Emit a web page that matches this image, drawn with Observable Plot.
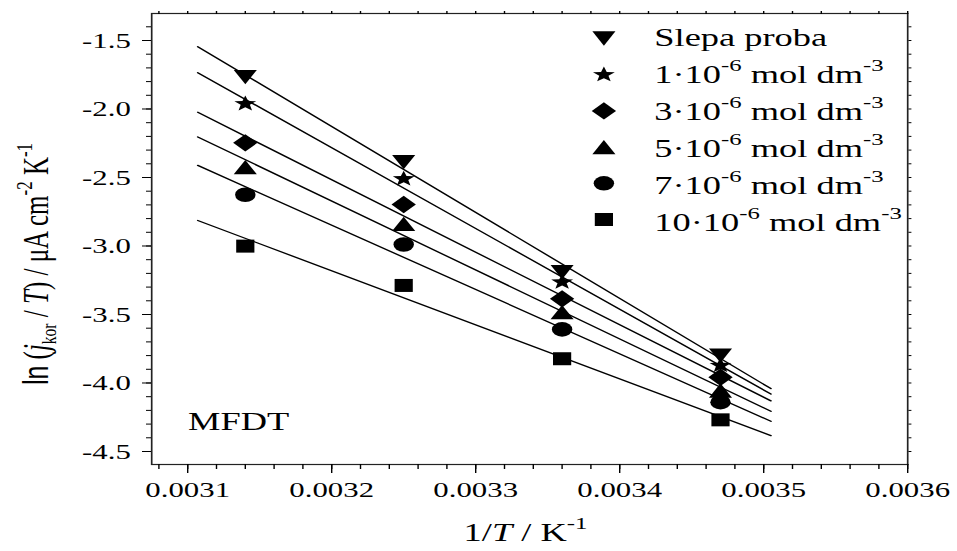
<!DOCTYPE html>
<html>
<head>
<meta charset="utf-8">
<script src="https://cdn.jsdelivr.net/npm/d3@7"></script>
<script src="https://cdn.jsdelivr.net/npm/@observablehq/plot@0.6"></script>
<style>
  body { margin: 0; background: #fff; }
  #chart svg { display: block; }
</style>
</head>
<body>
<div id="chart"></div>
<script>
// Arrhenius-type plot: ln(j_kor/T) against 1/T for the blank and five inhibitor concentrations.
const invT = [0.00314, 0.00325, 0.00336, 0.00347];

const seriesNames = [
  "Slepa proba",
  "1·10^{-6} mol dm^{-3}",
  "3·10^{-6} mol dm^{-3}",
  "5·10^{-6} mol dm^{-3}",
  "7·10^{-6} mol dm^{-3}",
  "10·10^{-6} mol dm^{-3}"
];

const slepa = [-1.768, -2.388, -3.191, -3.800];
const c1 = [-1.962, -2.510, -3.264, -3.872];
const c3 = [-2.247, -2.697, -3.386, -3.958];
const c5 = [-2.425, -2.838, -3.483, -4.055];
const c7 = [-2.626, -2.989, -3.609, -4.140];
const c10 = [-3.001, -3.288, -3.823, -4.269];
const seriesValues = [slepa, c1, c3, c5, c7, c10];

const xTicks = [0.0031, 0.0032, 0.0033, 0.0034, 0.0035, 0.0036];
const yTicks = [-1.5, -2.0, -2.5, -3.0, -3.5, -4.0, -4.5];
const xDomain = [0.003075, 0.0036];
const yDomain = [-4.595, -1.303];
const fitRange = [0.003107, 0.003505];

const xLabel = "1/*T* / K^{-1}";
const yLabel = "~ln~ (*j*_{kor} / *T*) / μA cm^{-2} K^{-1}";
const panelLabel = "MFDT";

// minor tick positions
const xMinor = d3.range(27).map(i => +(0.00308 + i * 0.00002).toFixed(5));
const yMinor = d3.range(32).map(i => +(-4.5 + i * 0.1).toFixed(1));

// The figure is drawn in a narrower coordinate space and widened horizontally.
const W = 957, H = 551, SX = 1.4;
const Wp = W / SX;

// Marker shapes (sizes given for r = 8)
const unit = size => Math.sqrt(size / Math.PI) / 8;
const symDown = {draw(ctx, size) { const k = unit(size), w = 8.25 * k, h = 7.15 * k;
  ctx.moveTo(-w, -h); ctx.lineTo(w, -h); ctx.lineTo(0, h); ctx.closePath(); }};
const symUp = {draw(ctx, size) { const k = unit(size), w = 8.25 * k, h = 7.15 * k;
  ctx.moveTo(-w, h); ctx.lineTo(w, h); ctx.lineTo(0, -h); ctx.closePath(); }};
const symStar = {draw(ctx, size) { const k = unit(size), ro = 8.2 * k, ri = ro * 0.42;
  for (let i = 0; i < 10; ++i) {
    const a = -Math.PI / 2 + i * Math.PI / 5, r = i % 2 ? ri : ro;
    i ? ctx.lineTo(r * Math.cos(a), r * Math.sin(a)) : ctx.moveTo(r * Math.cos(a), r * Math.sin(a));
  }
  ctx.closePath(); }};
const symDiamond = {draw(ctx, size) { const k = unit(size), d = 8.7 * k;
  ctx.moveTo(0, -d); ctx.lineTo(d, 0); ctx.lineTo(0, d); ctx.lineTo(-d, 0); ctx.closePath(); }};
const symCircle = {draw(ctx, size) { const r = 7.3 * unit(size);
  ctx.moveTo(r, 0); ctx.arc(0, 0, r, 0, 2 * Math.PI); }};
const symSquare = {draw(ctx, size) { const h = 6.5 * unit(size);
  ctx.rect(-h, -h, 2 * h, 2 * h); }};
const symbols = [symDown, symStar, symDiamond, symUp, symCircle, symSquare];

// Least-squares line through each series, drawn across fitRange
function fitLine(values) {
  const mx = d3.mean(invT), my = d3.mean(values);
  let sxy = 0, sxx = 0;
  invT.forEach((x, j) => { sxy += (x - mx) * (values[j] - my); sxx += (x - mx) ** 2; });
  const b = sxy / sxx, a = my - b * mx;
  return fitRange.map(x => ({x, y: a + b * x}));
}

const marks = [];
seriesValues.forEach(values => {
  marks.push(Plot.line(fitLine(values), {x: "x", y: "y", stroke: "#000", strokeWidth: 1.3}));
});
seriesValues.forEach((values, i) => {
  const pts = values.map((v, j) => ({x: invT[j], y: v}));
  marks.push(Plot.dot(pts, {x: "x", y: "y", r: 8, symbol: symbols[i], fill: "#000", stroke: "none"}));
});

// legend, top right inside the frame
seriesNames.forEach((name, i) => {
  marks.push(Plot.dot([name], {frameAnchor: "top-right", dx: -217, dy: 25 + 36.2 * i,
    r: 8, symbol: symbols[i], fill: "#000", stroke: "none"}));
  marks.push(Plot.text([name], {frameAnchor: "top-right", dx: -181, dy: 14 + 37 * i,
    textAnchor: "start", fontSize: 26, fill: "#000"}));
});

marks.push(
  Plot.frame({stroke: "#222", strokeWidth: 1.2}),
  Plot.axisX({ticks: xTicks, tickSize: 9, tickPadding: 8, tickFormat: d => d.toFixed(4), label: null, fontSize: 22}),
  Plot.axisX({ticks: xMinor, tickSize: 5, fill: "none", label: null}),
  Plot.axisX({anchor: "top", ticks: xMinor, tickSize: 3, fill: "none", label: null}),
  Plot.axisY({ticks: yTicks, tickSize: 9 / SX, tickPadding: 8.5, tickFormat: d => d.toFixed(1), label: null, fontSize: 22}),
  Plot.axisY({ticks: yMinor, tickSize: 5 / SX, fill: "none", label: null}),
  Plot.axisY({anchor: "right", ticks: yMinor, tickSize: 3 / SX, fill: "none", label: null}),
  Plot.text([yLabel], {frameAnchor: "left", dx: -82, dy: 25, rotate: -90, fontSize: 25, textAnchor: "middle", fill: "#000"}),
  Plot.text([xLabel], {frameAnchor: "bottom", dx: -3, dy: 76, fontSize: 26, fill: "#000"}),
  Plot.text([panelLabel], {frameAnchor: "bottom-left", dx: 26, dy: -35, textAnchor: "start", fontSize: 26, fill: "#000"})
);

const svg = Plot.plot({
  width: Wp,
  height: H,
  marginLeft: 151 / SX,
  marginRight: 50 / SX,
  marginTop: 13,
  marginBottom: 87,
  x: {domain: xDomain},
  y: {domain: yDomain},
  style: {fontFamily: "'Liberation Serif', 'Times New Roman', serif", fontSize: "22px", color: "#000", background: "#fff"},
  marks
});

// widen horizontally
svg.setAttribute("viewBox", `0 0 ${Wp} ${H}`);
svg.setAttribute("preserveAspectRatio", "none");
svg.setAttribute("width", W);
svg.setAttribute("height", H);
svg.style.maxWidth = "none";
svg.style.width = W + "px";
svg.style.height = H + "px";
document.getElementById("chart").appendChild(svg);

// Simple markup in labels: ^{sup}, _{sub}, *italic*, ~sans~
function richText(el) {
  const src = el.textContent;
  if (!/[\^_*~]/.test(src)) return;
  const base = parseFloat(getComputedStyle(el).fontSize) || 22;
  el.textContent = "";
  const re = /\^\{([^}]*)\}|_\{([^}]*)\}|\*([^*]*)\*|~([^~]*)~|([^^_*~]+)/g;
  let m, shift = 0;
  while ((m = re.exec(src))) {
    const t = document.createElementNS("http://www.w3.org/2000/svg", "tspan");
    let dy = -shift;
    shift = 0;
    if (m[1] != null) {
      t.textContent = m[1];
      t.setAttribute("font-size", base * 0.68);
      dy += -0.45 * base; shift = -0.45 * base;
    } else if (m[2] != null) {
      t.textContent = m[2];
      t.setAttribute("font-size", base * 0.62);
      dy += 0.22 * base; shift = 0.22 * base;
    } else if (m[3] != null) {
      t.textContent = m[3];
      t.setAttribute("font-style", "italic");
    } else if (m[4] != null) {
      t.textContent = m[4];
      t.setAttribute("font-family", "'Liberation Sans', Arial, sans-serif");
    } else {
      t.textContent = m[5];
    }
    if (dy) t.setAttribute("dy", dy);
    el.appendChild(t);
  }
}
svg.querySelectorAll("text").forEach(richText);
</script>
</body>
</html>
